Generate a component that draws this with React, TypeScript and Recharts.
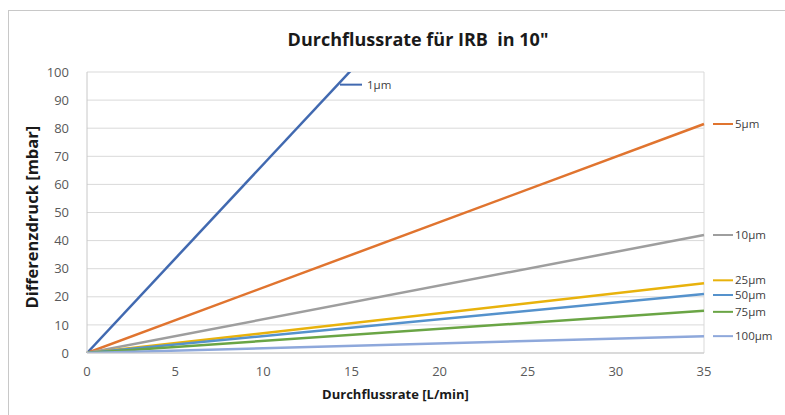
import { LineChart, Line, XAxis, YAxis, CartesianGrid, ReferenceLine, LabelList } from 'recharts'

const flow = [0, 35]
const p1 = [0, 235]
const p5 = [0, 81.5]
const p10 = [0, 42]
const p25 = [0, 24.8]
const p50 = [0, 21]
const p75 = [0, 15]
const p100 = [0, 6]
const xTicks = [0, 5, 10, 15, 20, 25, 30, 35]
const yTicks = [0, 10, 20, 30, 40, 50, 60, 70, 80, 90, 100]

const series = [
  { key: 'p1', name: '1µm', color: '#4169b0', values: p1, dy: 0 },
  { key: 'p5', name: '5µm', color: '#e0742f', values: p5, dy: 0 },
  { key: 'p10', name: '10µm', color: '#9e9e9e', values: p10, dy: 0 },
  { key: 'p25', name: '25µm', color: '#e8b20c', values: p25, dy: -3 },
  { key: 'p50', name: '50µm', color: '#5592cc', values: p50, dy: 1 },
  { key: 'p75', name: '75µm', color: '#6aa545', values: p75, dy: 1 },
  { key: 'p100', name: '100µm', color: '#8ea8db', values: p100, dy: 0 },
]

const data = flow.map((f, i) => {
  const row: any = { flow: f }
  series.forEach(s => { row[s.key] = s.values[i] })
  return row
})

const font = 'Open Sans, Calibri, sans-serif'

// series name next to the last point, with a short leader line like Excel
const EndLabel = ({ x, y, index, name, color, dy }: any) => {
  if (index !== flow.length - 1) return null
  const yy = y + dy
  return (
    <g>
      <line x1={x + 9} x2={x + 29} y1={yy} y2={yy} stroke={color} strokeWidth={2} />
      <text x={x + 31} y={yy} dy={4} fontSize={11.5} fill="#404040" fontFamily={font}>{name}</text>
    </g>
  )
}

export default function App() {
  return (
    <div style={{ position: 'absolute', left: 0, top: 0, width: 785, height: 415, background: '#fff', overflow: 'hidden' }}>
      <div style={{ position: 'absolute', left: 8, top: 10, width: 800, height: 420, borderLeft: '1px solid #c8c8c8', borderTop: '1px solid #c8c8c8' }} />
      <div style={{
        position: 'absolute', left: 0, width: 836, top: 27, textAlign: 'center',
        fontFamily: font, fontWeight: 'bold', fontSize: 18, color: '#1a1a1a', whiteSpace: 'pre',
      }}>Durchflussrate für IRB  in 10"</div>
      <div style={{ position: 'absolute', left: 0, top: 0 }}>
        <LineChart width={785} height={415} data={data} margin={{ top: 72, right: 81, bottom: 12, left: 27 }}>
          <CartesianGrid stroke="#d9d9d9" vertical={false} />
          <XAxis
            dataKey="flow" type="number" domain={[0, 35]} ticks={xTicks} height={50}
            tick={{ fill: '#595959', fontSize: 13, fontFamily: font }}
            tickLine={false} axisLine={{ stroke: '#c8c8c8' }} tickMargin={8}
            label={{ value: 'Durchflussrate [L/min]', position: 'insideBottom', offset: 4, fill: '#1a1a1a', fontSize: 13, fontWeight: 'bold', fontFamily: font }}
          />
          <YAxis
            type="number" domain={[0, 100]} ticks={yTicks} allowDataOverflow width={60}
            tick={{ fill: '#595959', fontSize: 13, fontFamily: font }}
            tickLine={false} axisLine={{ stroke: '#c8c8c8' }} tickMargin={12}
            label={{ value: 'Differenzdruck [mbar]', angle: -90, position: 'insideLeft', offset: 5, dy: 96, fill: '#1a1a1a', fontSize: 16.5, fontWeight: 'bold', fontFamily: font }}
          />
          <ReferenceLine x={35} stroke="#d9d9d9" />
          {series.map(s => (
            <Line
              key={s.key} dataKey={s.key} name={s.name} stroke={s.color} strokeWidth={2.5}
              dot={false} isAnimationActive={false} type="linear"
            >
              {s.key !== 'p1' && (
                <LabelList dataKey={s.key} content={(props: any) => <EndLabel {...props} name={s.name} color={s.color} dy={s.dy} />} />
              )}
            </Line>
          ))}
          <ReferenceLine
            segment={[{ x: 14.35, y: 95.5 }, { x: 15.6, y: 95.5 }]}
            stroke="#4169b0" strokeWidth={2}
            label={{ value: '1µm', position: 'right', fill: '#404040', fontSize: 11.5, fontFamily: font }}
          />
        </LineChart>
      </div>
    </div>
  )
}
